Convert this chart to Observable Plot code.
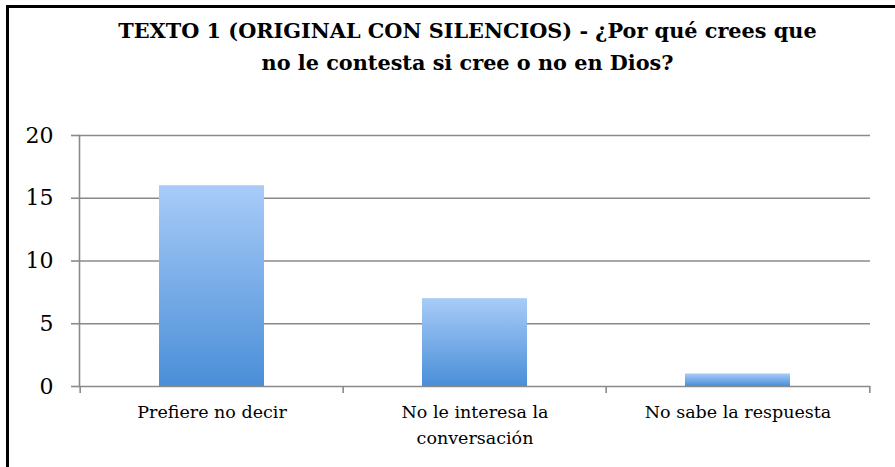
<!DOCTYPE html>
<html>
<head>
<meta charset="utf-8">
<script src="https://cdn.jsdelivr.net/npm/d3@7"></script>
<script src="https://cdn.jsdelivr.net/npm/@observablehq/plot@0.6"></script>
<style>
  html, body { margin: 0; padding: 0; background: #fff; }
  #wrap { position: relative; width: 895px; height: 467px; overflow: hidden; background: #fff; }
  #border { position: absolute; left: 6px; top: 5px; right: -10px; bottom: -10px;
            border-left: 3px solid #000; border-top: 3px solid #000; }
  #title { position: absolute; left: 0; width: 935px; top: 15px; text-align: center;
           font-family: "DejaVu Serif", serif; font-weight: bold; font-size: 20.8px;
           line-height: 32px; color: #000; }
  #chart { position: absolute; left: 0; top: 0; }
  #chart svg text { font-family: "DejaVu Serif", serif; }
</style>
</head>
<body>
<div id="wrap">
  <div id="chart"></div>
  <div id="border"></div>
  <div id="title">TEXTO 1 (ORIGINAL CON SILENCIOS) - ¿Por qué crees que<br>no le contesta si cree o no en Dios?</div>
</div>
<script>
const categories = ["Prefiere no decir", "No le interesa la conversación", "No sabe la respuesta"];
const tickLabels = ["Prefiere no decir", "No le interesa la\nconversación", "No sabe la respuesta"];
const values = [16, 7, 1];
const yTicks = [0, 5, 10, 15, 20];

const data = categories.map((c, i) => ({category: c, value: values[i]}));

const W = 895, H = 467;
const mL = 79, mR = 25, mT = 135, mB = 81;
const step = (W - mL - mR) / categories.length;

const gradientDefs = () => {
  const svg = d3.create("svg:g");
  const defs = svg.append("defs");
  const g = defs.append("linearGradient").attr("id", "barGrad")
    .attr("x1", 0).attr("y1", 0).attr("x2", 0).attr("y2", 1);
  g.append("stop").attr("offset", "0%").attr("stop-color", "#a8ccf8");
  g.append("stop").attr("offset", "100%").attr("stop-color", "#4a8ed8");
  return svg.node();
};

const chart = Plot.plot({
  width: W,
  height: H,
  marginLeft: mL,
  marginRight: mR,
  marginTop: mT,
  marginBottom: mB,
  style: {fontFamily: "'DejaVu Serif', serif", color: "#000", background: "transparent"},
  x: {domain: categories, paddingInner: 0.6, paddingOuter: 0.3, label: null},
  y: {domain: [0, 20], label: null},
  marks: [
    gradientDefs,
    Plot.ruleY(yTicks, {stroke: "#8a8a8a", strokeWidth: 1.6}),
    Plot.barY(data, {x: "category", y: "value", fill: "url(#barGrad)"}),
    Plot.frame({anchor: "left", stroke: "#8a8a8a", strokeWidth: 1.6}),
    Plot.ruleX(categories, {x: d => d, y1: 0, y2: 0, dx: -step / 2, insetBottom: -7, stroke: "#8a8a8a", strokeWidth: 1.6}),
    Plot.ruleX(categories.slice(-1), {x: d => d, y1: 0, y2: 0, dx: step / 2, insetBottom: -7, stroke: "#8a8a8a", strokeWidth: 1.6}),
    Plot.axisY({ticks: yTicks, tickSize: 8, tickPadding: 18, fontSize: 22, stroke: "#8a8a8a", strokeWidth: 1.6, tickFormat: d => String(d)}),
    Plot.axisX({tickSize: 0, tickPadding: 13, fontSize: 17.5, lineHeight: 1.5,
                tickFormat: d => tickLabels[categories.indexOf(d)]})
  ]
});
document.getElementById("chart").append(chart);
</script>
</body>
</html>
